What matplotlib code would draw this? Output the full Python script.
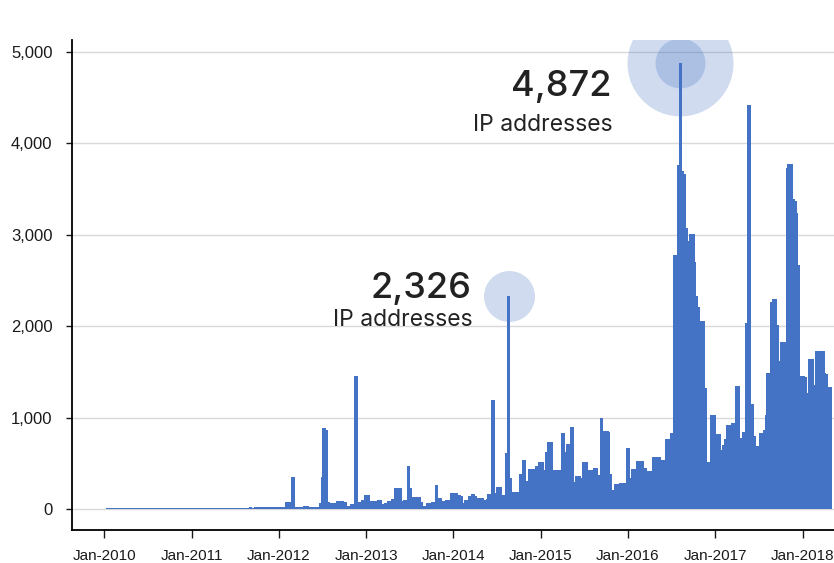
import matplotlib
matplotlib.use("Agg")
import matplotlib.pyplot as plt
import matplotlib.dates as mdates
import numpy as np
import pandas as pd

# ---------------- data (periodic counts of IP addresses) ----------------
first_bar_date = "2009-12-05"
last_bar_date = "2018-04-24"

ip_2010 = [0, 0, 0, 0, 0, 0, 12, 10, 11, 12,
           10, 9, 11, 12, 13, 11, 10, 12, 11, 10,
           12, 13, 11, 12, 10, 11, 12, 11, 13, 12,
           10, 11, 12, 13, 12, 11, 10, 12, 11, 13,
           12, 11, 12, 10, 11, 12, 13, 12, 11, 12,
           13, 12]
ip_2011 = [13, 12, 14, 13, 12, 14, 15, 13, 12, 14,
           13, 15, 14, 13, 12, 14, 15, 14, 13, 15,
           14, 13, 15, 16, 14, 13, 15, 14, 16, 15,
           14, 16, 15, 14, 16, 17, 15, 16, 18, 17,
           16, 18, 17, 16, 18, 17, 18, 25, 26, 24,
           18, 20]
ip_2012 = [20, 20, 22, 20, 75, 80, 30, 350, 20, 15,
           18, 15, 20, 25, 30, 30, 20, 22, 20, 18,
           20, 22, 25, 60, 350, 888, 863, 75, 70, 70,
           70, 65, 55, 90, 90, 90, 75, 75, 25, 30,
           25, 55, 55, 1456, 80, 80, 80, 95, 95, 150,
           150, 90]
ip_2013 = [90, 90, 85, 85, 95, 95, 50, 50, 65, 65,
           85, 85, 110, 110, 230, 230, 230, 90, 90, 95,
           95, 470, 230, 130, 125, 130, 125, 130, 75, 35,
           35, 35, 65, 65, 65, 80, 80, 262, 120, 120,
           90, 90, 90, 100, 100, 55, 175, 175, 175, 155,
           155, 145]
ip_2014 = [65, 65, 100, 100, 140, 140, 165, 140, 120, 120,
           115, 115, 100, 100, 105, 160, 160, 1190, 170, 170,
           245, 245, 70, 150, 150, 612, 2326, 340, 190, 190,
           190, 190, 170, 380, 380, 535, 305, 305, 437, 437,
           437, 340, 470, 470, 513, 513, 423, 423, 626, 728,
           728, 430]
ip_2015 = [430, 425, 430, 430, 415, 830, 433, 619, 706, 706,
           895, 270, 290, 364, 364, 340, 340, 517, 517, 430,
           430, 425, 430, 451, 451, 370, 370, 997, 852, 852,
           852, 840, 380, 207, 170, 270, 270, 160, 280, 280,
           280, 225, 663, 340, 340, 433, 433, 364, 524, 524,
           524, 300]
ip_2016 = [450, 420, 420, 420, 364, 564, 360, 570, 570, 390,
           535, 535, 765, 765, 680, 830, 830, 2777, 2777, 3757,
           4872, 3700, 3658, 3068, 2930, 2780, 3003, 3003, 2697, 2326,
           2205, 2056, 2056, 2056, 1320, 450, 517, 517, 1026, 1026,
           680, 820, 820, 626, 644, 700, 765, 917, 917, 655,
           939, 939]
ip_2017 = [1343, 1343, 700, 772, 845, 845, 2031, 4412, 1150, 1150,
           800, 626, 684, 684, 830, 830, 860, 1030, 1482, 1482,
           2265, 2293, 2293, 2010, 1620, 1490, 1823, 1823, 1300, 3724,
           3767, 3767, 3385, 3370, 3240, 2668, 1300, 1456, 1456, 1440,
           1270, 1209, 1642, 1642, 1330, 1358, 1725, 1725, 1725, 1725,
           1492, 1480, 1330, 1330]

ip_counts = ip_2010 + ip_2011 + ip_2012 + ip_2013 + ip_2014 + ip_2015 + ip_2016 + ip_2017

tick_years = [2010, 2011, 2012, 2013, 2014, 2015, 2016, 2017, 2018]
tick_labels = ["Jan-2010", "Jan-2011", "Jan-2012", "Jan-2013", "Jan-2014",
               "Jan-2015", "Jan-2016", "Jan-2017", "Jan-2018"]
y_ticks = [0, 1000, 2000, 3000, 4000, 5000]
y_tick_labels = ["0", "1,000", "2,000", "3,000", "4,000", "5,000"]
unit_label = "IP addresses"

# ---------------- figure ----------------
W, H = 834, 563
fig = plt.figure(figsize=(W / 100, H / 100), dpi=100)
ax = fig.add_axes([72 / W, 33 / H, (W - 72) / W, (530 - 40) / H])

bar_dates = pd.date_range(first_bar_date, last_bar_date, periods=len(ip_counts))
xnum = mdates.date2num(bar_dates.to_pydatetime())
vals = np.array(ip_counts, dtype=float)

bar_color = "#4472c4"
ax.bar(xnum, vals, width=16, color=bar_color, linewidth=0, zorder=2)

# highlighted peaks
i_big = int(np.argmax(vals))
cut = int(np.searchsorted(xnum, mdates.datestr2num("2015-01-01")))
i_small = int(np.argmax(vals[:cut]))

ax.scatter([xnum[i_big], xnum[i_big]], [vals[i_big], vals[i_big]],
           s=[5822, 1296], color=bar_color, alpha=0.25, linewidths=0, zorder=1.5)
ax.scatter([xnum[i_small]], [vals[i_small]], s=[1348], color=bar_color,
           alpha=0.25, linewidths=0, zorder=1.5)

num_font = dict(family=["Inter", "DejaVu Sans"], weight="medium", color="#222222")
for idx, dx, dy_num, dy_lab in [(i_big, -69, -33, -68), (i_small, -37, -2, -30)]:
    ax.annotate(f"{int(vals[idx]):,}", xy=(xnum[idx], vals[idx]), xytext=(dx, dy_num),
                textcoords="offset pixels", ha="right", va="baseline",
                fontsize=26, zorder=5, **num_font)
    ax.annotate(unit_label, xy=(xnum[idx], vals[idx]), xytext=(dx + 1, dy_lab),
                textcoords="offset pixels", ha="right", va="baseline",
                fontsize=16.5, family=["Inter", "DejaVu Sans"], color="#222222", zorder=5)

# axes styling
ax.set_ylim(-230, 5128)
ax.set_xlim(mdates.datestr2num("2009-08-19"), mdates.datestr2num("2018-05-12"))

ax.set_yticks(y_ticks)
ax.set_yticklabels(y_tick_labels)
ax.set_xticks([mdates.datestr2num(f"{y}-01-01") for y in tick_years])
ax.set_xticklabels(tick_labels)

for lab in ax.get_xticklabels() + ax.get_yticklabels():
    lab.set_fontfamily(["Liberation Sans", "DejaVu Sans"])
    lab.set_color("#1a1a1a")

ax.tick_params(axis="y", length=4, width=1, pad=10, labelsize=12, colors="#1a1a1a")
ax.tick_params(axis="x", length=6, width=1, pad=8, labelsize=11, colors="#1a1a1a")

ax.yaxis.grid(True, color="#d9d9d9", linewidth=1)
ax.set_axisbelow(True)

for s in ["top", "right"]:
    ax.spines[s].set_visible(False)
for s in ["left", "bottom"]:
    ax.spines[s].set_color("black")
    ax.spines[s].set_linewidth(1.3)

fig.savefig("out.png", dpi=100)
